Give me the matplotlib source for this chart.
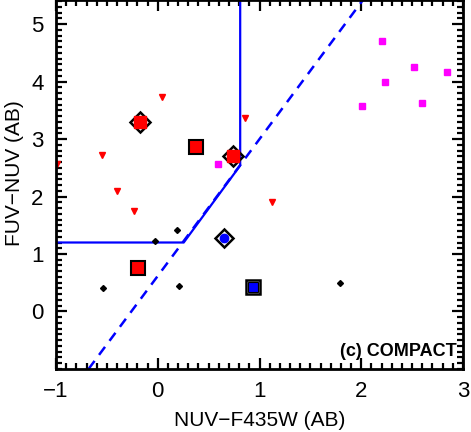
import numpy as np
import matplotlib
matplotlib.use("Agg")
import matplotlib.pyplot as plt

plt.rcParams['font.family'] = ['Liberation Sans', 'DejaVu Sans']

# large red squares
red_sq_x = [0.38, -0.19]
red_sq_y = [2.87, 0.76]
# red squares inside open diamonds
red_dia_x = [-0.17, 0.735]
red_dia_y = [3.30, 2.70]
# blue circle inside open diamond
blue_dia_x = [0.65]
blue_dia_y = [1.28]
# blue square inside open square
blue_sq_x = [0.94]
blue_sq_y = [0.42]
# small black diamonds
blk_x = [-0.54, -0.03, 0.19, 0.21, 1.79]
blk_y = [0.40, 1.23, 1.41, 0.45, 0.49]
# small red down triangles
tri_x = [-0.99, -0.55, -0.40, -0.23, 0.04, 0.86, 1.12]
tri_y = [2.57, 2.73, 2.09, 1.74, 3.74, 3.36, 1.90]
# magenta points
mag_x = [0.59, 2.20, 2.23, 2.01, 2.52, 2.84, 2.60]
mag_y = [2.56, 4.71, 4.00, 3.58, 4.26, 4.16, 3.63]

# selection boundaries
cut_x = [-1.0, 0.255, 0.81, 0.81]
cut_y = [1.2, 1.2, 2.54, 6.0]
dash_x = [-0.68, 2.05]
dash_y = [-1.0, 5.5]

xticks = [-1, 0, 1, 2, 3]
yticks = [0, 1, 2, 3, 4, 5]

fig = plt.figure(figsize=(4.71, 4.32), dpi=100)
ax = fig.add_axes([0.119, 0.146, 0.864, 0.854])

ax.plot(dash_x, dash_y, color='blue', lw=1.8, ls=(0, (4, 3)))
ax.plot(cut_x, cut_y, color='blue', lw=1.6)

ax.plot(tri_x, tri_y, 'v', color='red', ms=4, mec='red', ls='none')
ax.plot(blk_x, blk_y, 'D', color='black', ms=3, ls='none')
ax.plot(mag_x, mag_y, 's', color='magenta', ms=5, mec='magenta', ls='none')

ax.plot(red_sq_x, red_sq_y, 's', mfc='red', mec='black', mew=1.5, ms=10, ls='none')

ax.plot(red_dia_x, red_dia_y, 'D', mfc='none', mec='black', mew=1.8, ms=10.5, ls='none')
ax.plot(red_dia_x, red_dia_y, 's', mfc='red', mec='red', ms=8, ls='none')

ax.plot(blue_dia_x, blue_dia_y, 'D', mfc='white', mec='black', mew=1.8, ms=9.5, ls='none')
ax.plot(blue_dia_x, blue_dia_y, 'o', mfc='blue', mec='blue', ms=6, ls='none')

ax.plot(blue_sq_x, blue_sq_y, 's', mfc='white', mec='black', mew=1.8, ms=10, ls='none')
ax.plot(blue_sq_x, blue_sq_y, 's', mfc='blue', mec='black', mew=0.8, ms=6.5, ls='none')

ax.set_xlim(-1, 3)
ax.set_ylim(-1, 5.42)
ax.set_xticks(xticks)
ax.set_yticks(yticks)
ax.set_xticks(np.arange(-1, 3.01, 0.1), minor=True)
ax.set_yticks(np.arange(-1, 5.41, 0.1), minor=True)
ax.tick_params(which='both', direction='in', top=True, right=True, width=1.6, labelsize=16)
ax.tick_params(which='major', length=8, pad=9)
ax.tick_params(which='minor', length=4)
for s in ax.spines.values():
    s.set_linewidth(2)

ax.set_xlabel('NUV\u2212F435W (AB)', fontsize=15)
ax.xaxis.set_label_coords(0.5, -0.115)
ax.set_ylabel('FUV\u2212NUV (AB)', fontsize=15)
ax.yaxis.set_label_coords(-0.078, 0.53)
ax.text(0.985, 0.025, '(c) COMPACT', transform=ax.transAxes, ha='right', va='bottom',
        fontsize=13, fontweight='bold')

fig.savefig('out.png', dpi=100)
